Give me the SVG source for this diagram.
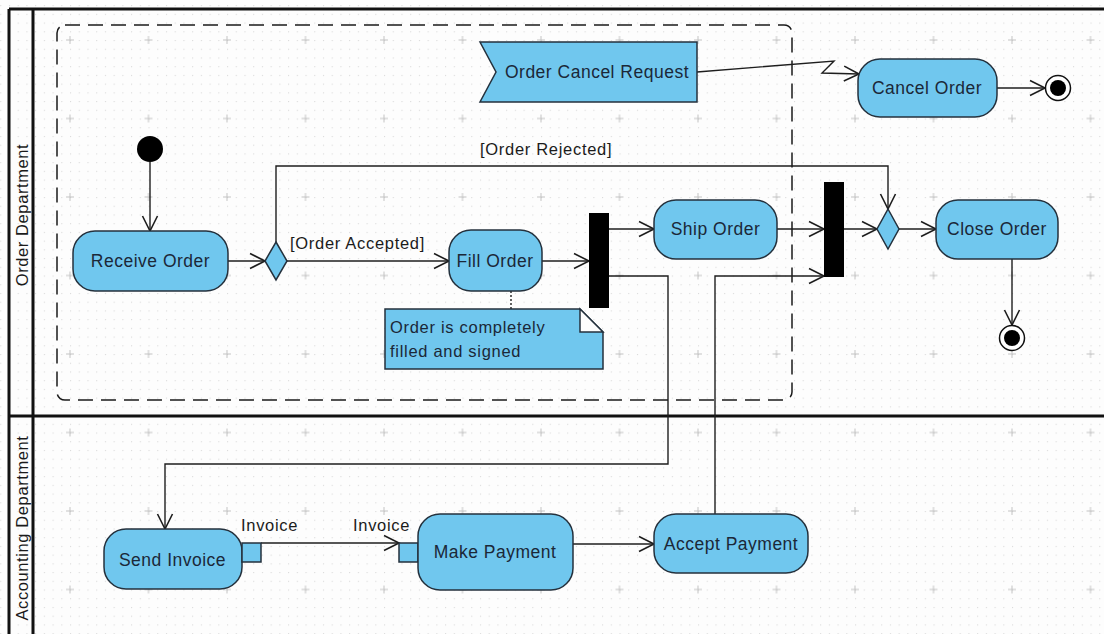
<svg xmlns="http://www.w3.org/2000/svg" width="1104" height="634" viewBox="0 0 1104 634">
<style>
.node{fill:#70C7EE;stroke:#24313d;stroke-width:1.5}
.lbl{font-family:"Liberation Sans",Arial,sans-serif;font-size:17.5px;letter-spacing:0.5px;fill:#1b2838;text-anchor:middle}
.g{font-family:"Liberation Sans",Arial,sans-serif;font-size:16.5px;letter-spacing:0.7px;fill:#1b1b1b}
.lane{font-family:"Liberation Sans",Arial,sans-serif;font-size:16.5px;letter-spacing:0.6px;fill:#1b1b1b;text-anchor:middle}
.e{fill:none;stroke:#1e1e1e;stroke-width:1.4}
.frame{fill:none;stroke:#111;stroke-width:3}
</style>
<defs>
<pattern id="dots" x="-8.5" y="-38.5" width="8.7222" height="8.7222" patternUnits="userSpaceOnUse">
<circle cx="0.6" cy="0.6" r="0.6" fill="#d2d2d2"/>
</pattern>
<pattern id="plus" x="-8.5" y="-38.5" width="78.5" height="78.5" patternUnits="userSpaceOnUse">
<path d="M-4,0 H4 M0,-4 V4 M74.5,0 H82.5 M78.5,-4 V4 M-4,78.5 H4 M0,74.5 V82.5 M74.5,78.5 H82.5 M78.5,74.5 V82.5" stroke="#c4c4c4" stroke-width="1" fill="none"/>
</pattern>
<marker id="arr" viewBox="0 0 18 18" refX="16" refY="9" markerWidth="18" markerHeight="18" markerUnits="userSpaceOnUse" orient="auto">
<path d="M1,1.5 L16,9 L1,16.5" fill="none" stroke="#1e1e1e" stroke-width="1.6"/>
</marker>
</defs>
<rect x="0" y="0" width="1104" height="634" fill="#fdfdfd"/>
<rect x="0" y="0" width="1104" height="634" fill="url(#dots)"/>
<rect x="0" y="0" width="1104" height="634" fill="url(#plus)"/>

<g id="frame">
<line x1="9" y1="9" x2="1104" y2="9" class="frame" stroke-width="2.5"/>
<line x1="9" y1="9" x2="9" y2="634" class="frame" stroke-width="2.5"/>
<line x1="33" y1="9" x2="33" y2="634" class="frame"/>
<line x1="9" y1="416" x2="1104" y2="416" class="frame"/>
<text class="lane" transform="translate(28,215) rotate(-90)">Order Department</text>
<text class="lane" transform="translate(28,528) rotate(-90)">Accounting Department</text>
</g>

<g id="interruptible-region">
<rect x="57" y="25" width="735" height="375" rx="8" fill="none" stroke="#1a1a1a" stroke-width="1.5" stroke-dasharray="15,8"/>
</g>

<g id="connectors">
<path class="e" d="M150,162 L150,231" marker-end="url(#arr)"/>
<path class="e" d="M228,261 L265,261" marker-end="url(#arr)"/>
<path class="e" d="M276,242 L276,166 L888,166 L888,209" marker-end="url(#arr)"/>
<path class="e" d="M287,261 L449,261" marker-end="url(#arr)"/>
<path class="e" d="M542,261 L589,261" marker-end="url(#arr)"/>
<path class="e" d="M511,291 L511,309" stroke-dasharray="2,2"/>
<path class="e" d="M609,229 L654,229" marker-end="url(#arr)"/>
<path class="e" d="M609,276 L668,276 L668,464 L165,464 L165,529" marker-end="url(#arr)"/>
<path class="e" d="M777,229 L824,229" marker-end="url(#arr)"/>
<path class="e" d="M844,229 L877,229" marker-end="url(#arr)"/>
<path class="e" d="M899,229 L936,229" marker-end="url(#arr)"/>
<path class="e" d="M1012,259 L1012,325" marker-end="url(#arr)"/>
<path class="e" d="M715,514 L715,276 L824,276" marker-end="url(#arr)"/>
<path class="e" d="M697,72 L834,61 L822,73 L859,74" marker-end="url(#arr)"/>
<path class="e" d="M997,88 L1045,88" marker-end="url(#arr)"/>
<path class="e" d="M261,543 L399,543" marker-end="url(#arr)"/>
<path class="e" d="M573,544 L654,544" marker-end="url(#arr)"/>
<text class="g" x="480" y="155">[Order Rejected]</text>
<text class="g" x="290" y="249">[Order Accepted]</text>
<text class="g" x="241" y="531">Invoice</text>
<text class="g" x="353" y="531">Invoice</text>
</g>

<g id="initial">
<circle cx="150" cy="149" r="13" fill="#000"/>
</g>
<g id="receive-order">
<rect class="node" x="73" y="231" width="155" height="60" rx="22"/>
<text class="lbl" x="150.5" y="267">Receive Order</text>
</g>
<g id="decision-1">
<polygon class="node" points="276,242 287,261 276,280 265,261"/>
</g>
<g id="fill-order">
<rect class="node" x="449" y="230" width="93" height="61" rx="22"/>
<text class="lbl" x="495" y="267">Fill Order</text>
</g>
<g id="note">
<path d="M385,309 L580,309 L603,332 L603,369 L385,369 Z" fill="#70C7EE" stroke="#24313d" stroke-width="1.5"/>
<path d="M580,309 L580,332 L603,332 Z" fill="#fdfdfd" stroke="#24313d" stroke-width="1.5"/>
<text class="g" x="390" y="333" style="fill:#1b2838">Order is completely</text>
<text class="g" x="390" y="357" style="fill:#1b2838">filled and signed</text>
</g>
<g id="fork-1">
<rect x="589" y="213" width="20" height="95" fill="#000"/>
</g>
<g id="ship-order">
<rect class="node" x="654" y="200" width="123" height="59" rx="22"/>
<text class="lbl" x="715.5" y="235">Ship Order</text>
</g>
<g id="fork-2">
<rect x="824" y="182" width="20" height="95" fill="#000"/>
</g>
<g id="decision-2">
<polygon class="node" points="888,209 899,229 888,249 877,229"/>
</g>
<g id="close-order">
<rect class="node" x="936" y="200" width="122" height="59" rx="22"/>
<text class="lbl" x="997" y="235">Close Order</text>
</g>
<g id="final-1">
<circle cx="1012" cy="338" r="12.5" fill="#fff" stroke="#111" stroke-width="1.5"/>
<circle cx="1012" cy="338" r="8" fill="#000"/>
</g>
<g id="order-cancel-request">
<polygon class="node" points="480,42 697,42 697,102 480,102 496,72"/>
<text class="lbl" x="597" y="78">Order Cancel Request</text>
</g>
<g id="cancel-order">
<rect class="node" x="858" y="59" width="139" height="58" rx="22"/>
<text class="lbl" x="927" y="94">Cancel Order</text>
</g>
<g id="final-2">
<circle cx="1058" cy="88" r="12.5" fill="#fff" stroke="#111" stroke-width="1.5"/>
<circle cx="1058" cy="88" r="8" fill="#000"/>
</g>
<g id="send-invoice">
<rect class="node" x="104" y="529" width="138" height="60" rx="22"/>
<rect class="node" x="242" y="543" width="19" height="19"/>
<text class="lbl" x="172.5" y="566">Send Invoice</text>
</g>
<g id="make-payment">
<rect class="node" x="399" y="543" width="19" height="19"/>
<rect class="node" x="418" y="514" width="155" height="76" rx="22"/>
<text class="lbl" x="495" y="558">Make Payment</text>
</g>
<g id="accept-payment">
<rect class="node" x="654" y="514" width="154" height="59" rx="22"/>
<text class="lbl" x="731" y="550">Accept Payment</text>
</g>
</svg>
